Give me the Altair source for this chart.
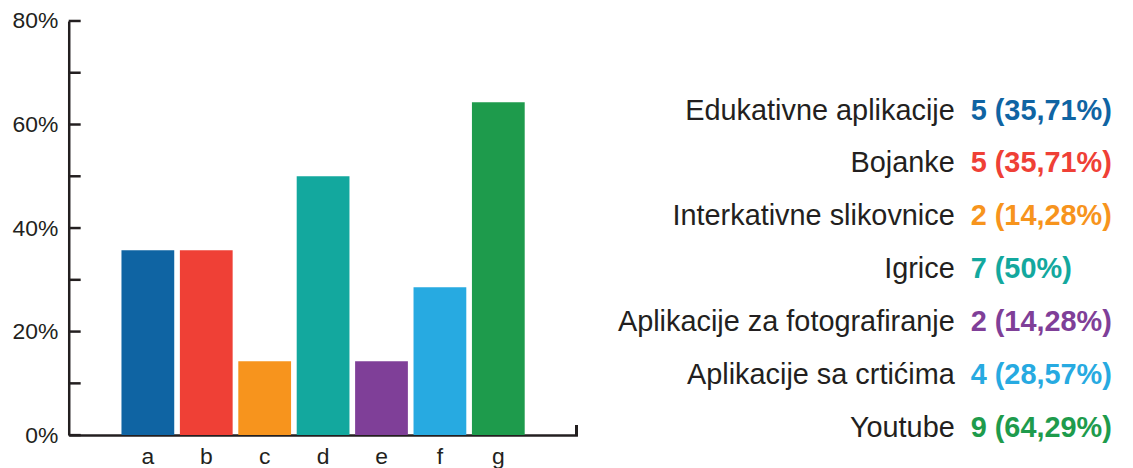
import altair as alt
import pandas as pd

categories = ["a", "b", "c", "d", "e", "f", "g"]
names = [
    "Edukativne aplikacije",
    "Bojanke",
    "Interkativne slikovnice",
    "Igrice",
    "Aplikacije za fotografiranje",
    "Aplikacije sa crtićima",
    "Youtube",
]
counts = [5, 5, 2, 7, 2, 4, 9]
percents = [35.71, 35.71, 14.28, 50, 14.28, 28.57, 64.29]
colors = ["#0F64A3", "#EF4036", "#F7941D", "#13A89E", "#7F3F98", "#27AAE1", "#1E9B4C"]
y_label_values = [0, 0.2, 0.4, 0.6, 0.8]
y_tick_values = [0, 0.1, 0.2, 0.3, 0.4, 0.5, 0.6, 0.7, 0.8]

DARK = "#231f20"
FONT = "Liberation Sans"

df = pd.DataFrame({
    "cat": categories,
    "name": names,
    "share": [p / 100 for p in percents],
    "value_text": [f"{c} ({p:g}%)".replace(".", ",") for c, p in zip(counts, percents)],
})
ticks_df = pd.DataFrame({"share": y_tick_values})

color_scale = alt.Scale(domain=categories, range=colors)
y_scale = alt.Scale(domain=[0, 0.8], nice=False)

bars = alt.Chart(df).mark_bar().encode(
    x=alt.X(
        "cat:N",
        sort=categories,
        scale=alt.Scale(paddingInner=0.0966, paddingOuter=0.903),
        axis=alt.Axis(
            title=None, labelAngle=0, ticks=False, domainColor=DARK, domainWidth=2.5,
            labelFontSize=23, labelFont=FONT, labelColor=DARK, labelPadding=11,
        ),
    ),
    y=alt.Y(
        "share:Q",
        scale=y_scale,
        axis=alt.Axis(
            values=y_label_values, format=".0%", ticks=False, grid=False, title=None,
            domainColor=DARK, domainWidth=2.5, labelFontSize=23, labelFont=FONT,
            labelColor=DARK, labelPadding=11,
        ),
    ),
    color=alt.Color("cat:N", scale=color_scale, legend=None),
)

inner_ticks = alt.Chart(ticks_df).mark_rule(color=DARK, strokeWidth=2.5).encode(
    y=alt.Y("share:Q"),
    x=alt.value(0),
    x2=alt.value(12),
)

end_tick = alt.Chart(ticks_df).mark_rule(color=DARK, strokeWidth=2.5).encode(
    x=alt.value(510),
    y=alt.value(406),
    y2=alt.value(416),
)

row_scale = alt.Scale(type="point", range=[90, 409], padding=0)

name_text = alt.Chart(df).mark_text(
    align="right", baseline="middle", fontSize=29, font=FONT, color=DARK
).encode(
    y=alt.Y("name:N", sort=names, scale=row_scale, axis=None),
    x=alt.value(890),
    text="name:N",
)

value_text = alt.Chart(df).mark_text(
    align="left", baseline="middle", fontSize=29, font=FONT, fontWeight="bold"
).encode(
    y=alt.Y("name:N", sort=names, scale=row_scale, axis=None),
    x=alt.value(906),
    text="value_text:N",
    color=alt.Color("cat:N", scale=color_scale, legend=None),
)

chart = alt.layer(
    alt.layer(bars, inner_ticks, end_tick),
    alt.layer(name_text, value_text),
).resolve_scale(y="independent").properties(
    width=511,
    height=416,
    autosize=alt.AutoSizeParams(type="none"),
    padding={"left": 61, "top": 12, "right": 550, "bottom": 32},
).configure_view(stroke=None)

chart.save("out.html", embed_options={"renderer": "svg", "actions": False})
